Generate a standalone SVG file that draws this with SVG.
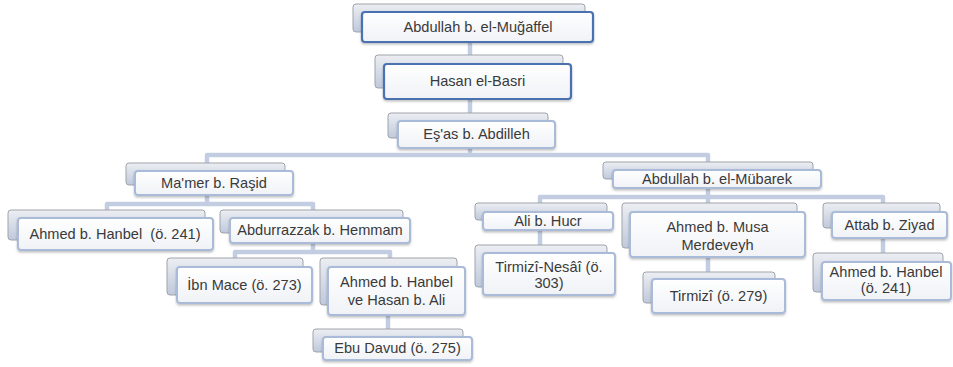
<svg xmlns="http://www.w3.org/2000/svg" width="953" height="367" viewBox="0 0 953 367">
<defs>
<linearGradient id="gb" x1="0" y1="0" x2="0" y2="1">
<stop offset="0" stop-color="#eceef2"/>
<stop offset="1" stop-color="#bfc9dc"/>
</linearGradient>
<linearGradient id="gf" x1="0" y1="0" x2="0" y2="1">
<stop offset="0" stop-color="#ffffff"/>
<stop offset="1" stop-color="#f0f2f6"/>
</linearGradient>
<filter id="sh" x="-10%" y="-20%" width="120%" height="150%">
<feDropShadow dx="0" dy="1.5" stdDeviation="1.2" flood-color="#000" flood-opacity="0.25"/>
</filter>
</defs>
<style>
.bk{fill:url(#gb);stroke:#9fa3aa;stroke-width:1}
.fr{fill:url(#gf);stroke:#a9bbd9;stroke-width:2;filter:url(#sh)}
.frd{fill:url(#gf);stroke:#4c72b0;stroke-width:2.2;filter:url(#sh)}
.t{font-family:"Liberation Sans",Arial,sans-serif;font-size:14.6px;fill:#3a3a3a;text-anchor:middle}
.c{fill:none;stroke:#c3cde1;stroke-width:4.5;stroke-linejoin:round}
</style>
<rect width="953" height="367" fill="#fff"/>
<g id="connectors">
<path class="c" d="M470 42V55"/>
<path class="c" d="M470 99V113"/>
<path class="c" d="M470 148V155"/>
<path class="c" d="M207 163V155H708V162"/>
<path class="c" d="M207 195V204"/>
<path class="c" d="M107 210V204H313V210"/>
<path class="c" d="M313 243V252"/>
<path class="c" d="M235 258V252H390V258"/>
<path class="c" d="M388 315V329"/>
<path class="c" d="M708 188V197"/>
<path class="c" d="M540 203V197H883V203"/>
<path class="c" d="M708 197V203"/>
<path class="c" d="M540 230V245"/>
<path class="c" d="M708 257V272"/>
<path class="c" d="M883 238V253"/>
</g>
<g id="n1">
<rect class="bk" x="353" y="4" width="232" height="28" rx="3"/>
<rect class="frd" x="362" y="12" width="231" height="30" rx="3"/>
<text class="t" x="478" y="32">Abdullah b. el-Muğaffel</text>
</g>
<g id="n2">
<rect class="bk" x="375" y="55" width="188" height="33" rx="3"/>
<rect class="frd" x="384" y="64" width="187" height="35" rx="3"/>
<text class="t" x="477.5" y="86">Hasan el-Basri</text>
</g>
<g id="n3">
<rect class="bk" x="388" y="113" width="160" height="25" rx="3"/>
<rect class="fr" x="398" y="121" width="157" height="27" rx="3"/>
<text class="t" x="476.5" y="139">Eş'as b. Abdilleh</text>
</g>
<g id="n4">
<rect class="bk" x="126" y="163" width="159" height="22" rx="3"/>
<rect class="fr" x="135" y="171" width="158" height="24" rx="3"/>
<text class="t" x="214" y="188">Ma'mer b. Raşid</text>
</g>
<g id="n5">
<rect class="bk" x="603" y="162" width="210" height="17" rx="3"/>
<rect class="fr" x="613" y="170" width="208" height="18" rx="3"/>
<text class="t" x="717" y="184">Abdullah b. el-Mübarek</text>
</g>
<g id="n6">
<rect class="bk" x="8" y="210" width="197" height="30" rx="3"/>
<rect class="fr" x="18" y="218" width="195" height="32" rx="3"/>
<text class="t" x="115" y="239">Ahmed b. Hanbel&#160; (ö. 241)</text>
</g>
<g id="n7">
<rect class="bk" x="220" y="210" width="183" height="23" rx="3"/>
<rect class="fr" x="230" y="218" width="180" height="25" rx="3"/>
<text class="t" x="320" y="235">Abdurrazzak b. Hemmam</text>
</g>
<g id="n8">
<rect class="bk" x="167" y="258" width="136" height="37" rx="3"/>
<rect class="fr" x="177" y="267" width="135" height="36" rx="3"/>
<text class="t" x="244.5" y="290">İbn Mace (ö. 273)</text>
</g>
<g id="n9">
<rect class="bk" x="320" y="258" width="137" height="47" rx="3"/>
<rect class="fr" x="328" y="267" width="137" height="48" rx="3"/>
<text class="t" x="396.5" y="287">Ahmed b. Hanbel</text>
<text class="t" x="396.5" y="305">ve Hasan b. Ali</text>
</g>
<g id="n10">
<rect class="bk" x="313" y="329" width="150" height="23" rx="3"/>
<rect class="fr" x="323" y="337" width="149" height="23" rx="3"/>
<text class="t" x="397.5" y="353">Ebu Davud (ö. 275)</text>
</g>
<g id="n11">
<rect class="bk" x="475" y="203" width="132" height="17" rx="3"/>
<rect class="fr" x="483" y="212" width="130" height="18" rx="3"/>
<text class="t" x="548" y="226">Ali b. Hucr</text>
</g>
<g id="n12">
<rect class="bk" x="475" y="245" width="132" height="42" rx="3"/>
<rect class="fr" x="483" y="253" width="132" height="42" rx="3"/>
<text class="t" x="549" y="272">Tirmizî-Nesâî (ö.</text>
<text class="t" x="549" y="288">303)</text>
</g>
<g id="n13">
<rect class="bk" x="622" y="203" width="175" height="45" rx="3"/>
<rect class="fr" x="630" y="212" width="175" height="45" rx="3"/>
<text class="t" x="717.5" y="232">Ahmed b. Musa</text>
<text class="t" x="717.5" y="250">Merdeveyh</text>
</g>
<g id="n14">
<rect class="bk" x="643" y="272" width="132" height="31" rx="3"/>
<rect class="fr" x="652" y="279" width="133" height="34" rx="3"/>
<text class="t" x="718.5" y="301">Tirmizî (ö. 279)</text>
</g>
<g id="n15">
<rect class="bk" x="823" y="203" width="117" height="25" rx="3"/>
<rect class="fr" x="832" y="212" width="115" height="26" rx="3"/>
<text class="t" x="889.5" y="230">Attab b. Ziyad</text>
</g>
<g id="n16">
<rect class="bk" x="813" y="253" width="130" height="39" rx="3"/>
<rect class="fr" x="822" y="262" width="129" height="38" rx="3"/>
<text class="t" x="886" y="277">Ahmed b. Hanbel</text>
<text class="t" x="886" y="293">(ö. 241)</text>
</g>
</svg>
